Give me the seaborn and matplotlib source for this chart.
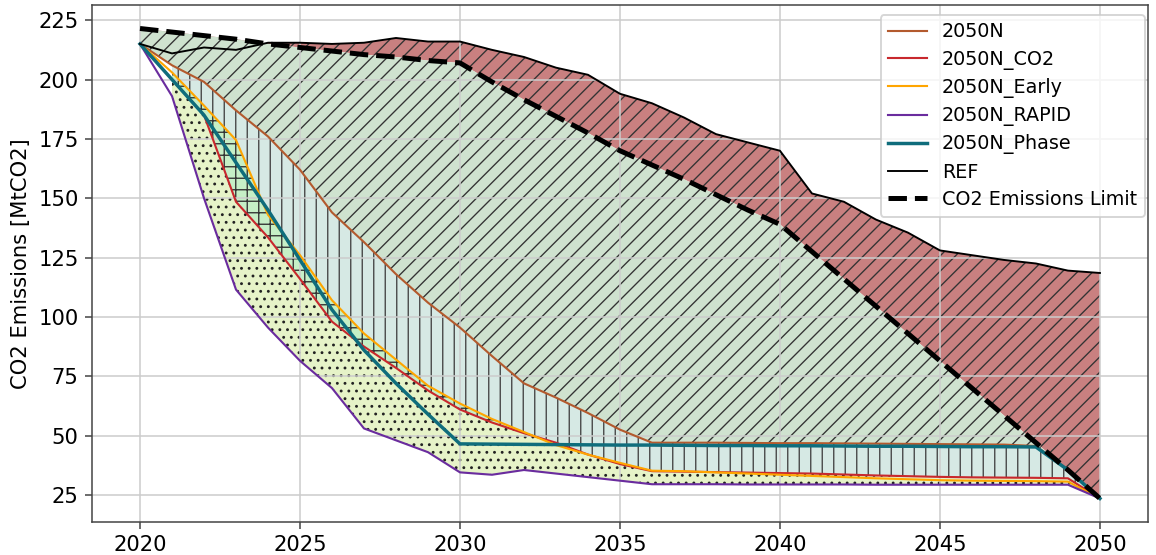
import numpy as np
import matplotlib
matplotlib.use("Agg")
import matplotlib.pyplot as plt
import seaborn as sns

# ---- data (MtCO2 per year) ----
years = np.arange(2020, 2051)

ref = [215, 211, 213.5, 212.5, 215.5, 215.5, 215, 215.5, 217.5, 216, 216,
       212.5, 209.5, 205, 202, 194, 190, 184, 177, 173.5, 170,
       152, 148.5, 141, 135.5, 128, 126, 124, 122.5, 119.5, 118.5]

limit = [221.5, 220, 218.5, 217, 215, 213.5, 212, 210.5, 209.5, 208, 207,
         199, 191.5, 184.5, 177.5, 170, 164, 158, 151.5, 145, 139,
         127.5, 116, 104.5, 93, 81.5, 70, 58.5, 47, 35.5, 23.5]

n2050 = [215, 206, 199, 187, 176, 162, 144, 131.5, 118, 106, 95.5,
         83.5, 72, 66, 59.5, 52.5, 47, 47, 47, 46.9, 46.8,
         46.8, 46.7, 46.6, 46.5, 46.4, 46.3, 46.2, 45.6, 35.5, 23.5]

co2 = [215, 200, 185, 148.5, 133.5, 116, 98, 87.5, 78.5, 69, 61,
       55.5, 51, 47, 42, 38, 35, 34.8, 34.6, 34.4, 34.2,
       34, 33.6, 33.2, 32.9, 32.6, 32.4, 32.3, 32.2, 32, 23.5]

early = [215, 203, 189, 174.5, 143, 126, 107, 93, 82, 71, 63.5,
         57, 51.5, 46, 42, 38.5, 35.2, 35, 34.5, 34, 33.5,
         33, 32.5, 32, 31.6, 31.2, 31, 30.9, 30.8, 30.6, 23.5]

rapid = [215, 193, 150, 111.5, 95.5, 81.5, 70, 53, 48, 43, 34.5,
         33.5, 35.5, 34, 32.5, 31, 29.5, 29.5, 29.5, 29.4, 29.4,
         29.4, 29.4, 29.3, 29.3, 29.3, 29.3, 29.3, 29.3, 29.3, 23.5]

phase = [215, 200, 185, 165, 145, 124, 103, 86, 72, 59, 46.5,
         46.4, 46.3, 46.2, 46.1, 46, 46, 45.9, 45.8, 45.8, 45.7,
         45.7, 45.6, 45.5, 45.5, 45.4, 45.3, 45.3, 45.2, 35.5, 23.5]

labels = ["2050N", "2050N_CO2", "2050N_Early", "2050N_RAPID", "2050N_Phase", "REF"]
colors = ["#b35a2e", "#c8282d", "orange", "#6a2c9e", "#0f6d7c", "black"]

DPI = 138
plt.rcParams["hatch.linewidth"] = 0.7
plt.rcParams["font.family"] = ["DejaVu Sans"]

fig, ax = plt.subplots(figsize=(1156 / DPI, 555 / DPI), dpi=DPI)
fig.subplots_adjust(left=0.0796, right=0.993, bottom=0.0595, top=0.991)

y_ref = np.array(ref)
y_lim = np.array(limit)
y_n = np.array(n2050)
y_co2 = np.array(co2)
y_early = np.array(early)
y_rapid = np.array(rapid)
from2021 = years >= 2021

# ---- shaded bands between pathways ----
hatch_col = "#333333"
ax.fill_between(years, y_lim, y_ref, facecolor="#c98080", edgecolor=hatch_col,
                hatch="///", linewidth=0)
ax.fill_between(years, y_n, y_lim, facecolor="#cfe2cf", edgecolor=hatch_col,
                hatch="///", linewidth=0)
ax.fill_between(years, y_early, y_n, where=from2021, facecolor="#d6e9e4",
                edgecolor="#444444", hatch="||", linewidth=0)
ax.fill_between(years, y_co2, y_early, where=from2021, facecolor="#c6efc6",
                edgecolor=hatch_col, hatch="++", linewidth=0)
ax.fill_between(years, y_rapid, y_co2, where=from2021, facecolor="#e6f3c8",
                edgecolor="#222222", hatch="...", linewidth=0)

# ---- pathway lines ----
series = [n2050, co2, early, rapid, phase, ref]
widths = [1.1, 1.1, 1.1, 1.1, 1.8, 1.0]
for vals, lab, col, lw in zip(series, labels, colors, widths):
    sns.lineplot(x=years, y=vals, ax=ax, color=col, lw=lw, label=lab)
sns.lineplot(x=years, y=limit, ax=ax, color="black", lw=2.6, linestyle="--",
             label="CO2 Emissions Limit")

ax.set_xticks(np.arange(2020, 2051, 5))
ax.set_yticks(np.arange(25, 226, 25))
ax.tick_params(labelsize=11, color="#444444")
ax.set_ylabel("CO2 Emissions [MtCO2]", fontsize=11)
ax.set_xlabel("")
ax.grid(True, color="#cccccc", linewidth=0.8)
for sp in ax.spines.values():
    sp.set_color("#444444")
ax.legend(loc="upper right", bbox_to_anchor=(0.997, 0.981), borderaxespad=0,
          fontsize=10, labelspacing=0.43)

fig.savefig("out.png", dpi=DPI)
